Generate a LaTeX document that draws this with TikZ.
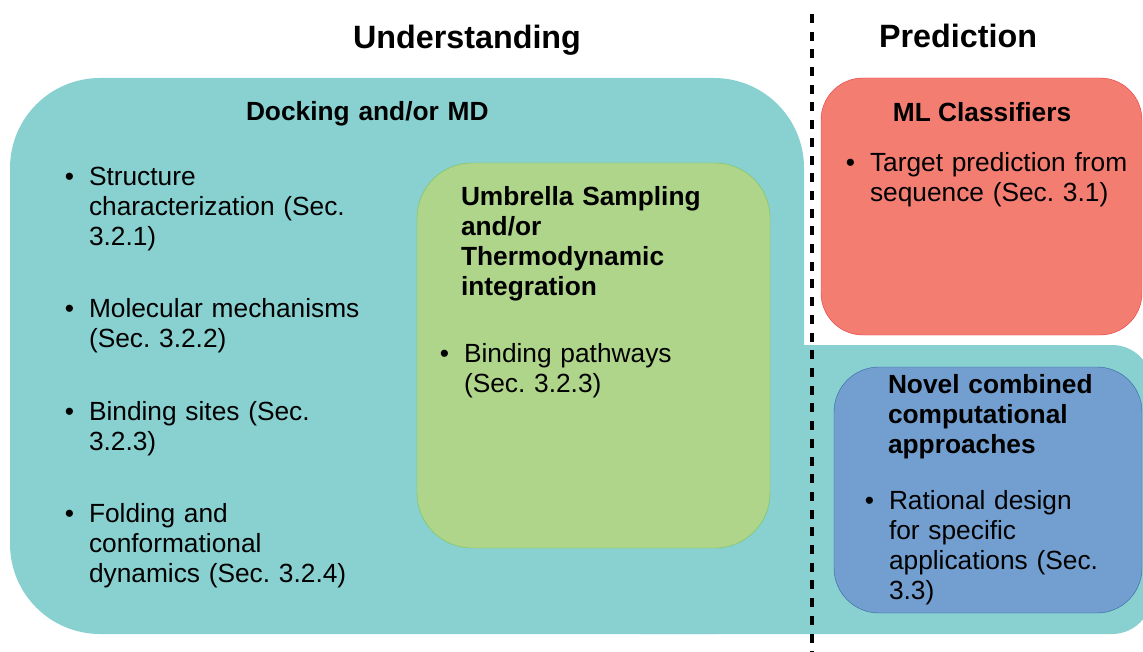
\documentclass[tikz,border=0pt]{standalone}
\usepackage{fontspec}
\setmainfont{Liberation Sans}
\frenchspacing
\usetikzlibrary{positioning}
\definecolor{tealbg}{RGB}{136,209,208}
\definecolor{greenbg}{RGB}{175,213,139}
\definecolor{greenln}{RGB}{125,194,84}
\definecolor{redbg}{RGB}{244,125,114}
\definecolor{redln}{RGB}{232,55,60}
\definecolor{bluebg}{RGB}{114,159,207}
\definecolor{blueln}{RGB}{52,101,164}

\begin{document}
\begin{tikzpicture}[x=1pt,y=-1pt,
		every node/.style={inner sep=0pt,outer sep=0pt},
		head/.style={font=\fontsize{32.3}{36}\selectfont\bfseries,anchor=base},
		title/.style={font=\fontsize{26.3}{30}\selectfont\bfseries,anchor=base west,text width=320pt,align=left},
		txt/.style={font=\fontsize{26.3}{30}\selectfont,anchor=base west,text width=320pt,align=left},
		dot/.style={font=\fontsize{26.3}{30}\selectfont,left=15pt of #1.base west,anchor=base east},
		sep/.style={line width=4pt,dash pattern=on 9pt off 8.7pt}]
	\useasboundingbox (0,0) rectangle (1143,652);
	\clip (0,0) rectangle (1143,652);

	% background areas
	\fill[tealbg, rounded corners=90pt] (10,78) rectangle (804,634);
	\fill[tealbg, rounded corners=40pt] (600,345) rectangle (1152,634);
	\filldraw[fill=greenbg, draw=greenln, rounded corners=55pt] (417,163) rectangle (770,548);
	\filldraw[fill=redbg,   draw=redln,   rounded corners=42pt] (821,78)  rectangle (1142,335);
	\filldraw[fill=bluebg,  draw=blueln,  rounded corners=45pt] (834,367) rectangle (1142,613);

	% divider
	\coordinate (top) at (812,14);
	\coordinate (bot) at (812,652);
	\draw[sep] (top) -- (bot);

	% headings
	\node[head] (under) at (467,49)  {Understanding};
	\node[head] (pred)  at (958,48)  {Prediction};

	% docking and/or MD
	\node[title] (dock)   at (246,121)  {Docking and/or MD};
	\node[txt]   (struct) at (89,186)   {Structure\\characterization (Sec.\\3.2.1)};
	\node[txt]   (mech)   at (89,317)   {Molecular mechanisms\\(Sec. 3.2.2)};
	\node[txt]   (sites)  at (89,420)   {Binding sites (Sec.\\3.2.3)};
	\node[txt]   (fold)   at (89,522)   {Folding and\\conformational\\dynamics (Sec. 3.2.4)};
	\node[dot=struct] (bstruct) {\textbullet};
	\node[dot=mech]   (bmech)   {\textbullet};
	\node[dot=sites]  (bsites)  {\textbullet};
	\node[dot=fold]   (bfold)   {\textbullet};

	% umbrella sampling
	\node[title] (umb)  at (461,206) {Umbrella Sampling\\and/or\\Thermodynamic\\integration};
	\node[txt]   (path) at (464,362) {Binding pathways\\(Sec. 3.2.3)};
	\node[dot=path] (bpath) {\textbullet};

	% ML classifiers
	\node[title, anchor=base, text width=] (ml) at (982,122) {ML Classifiers};
	\node[txt]   (target) at (870,172) {Target prediction from\\sequence (Sec. 3.1)};
	\node[dot=target] (btarget) {\textbullet};

	% novel approaches
	\node[title] (novel)  at (888,393) {Novel combined\\computational\\approaches};
	\node[txt]   (design) at (889,509) {Rational design\\for specific\\applications (Sec.\\3.3)};
	\node[dot=design] (bdesign) {\textbullet};
\end{tikzpicture}
\end{document}
